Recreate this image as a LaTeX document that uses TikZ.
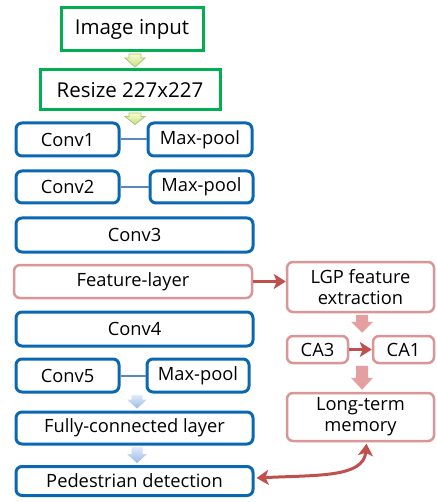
\documentclass[tikz,border=0pt]{standalone}
\usepackage{fontspec}
\setmainfont{Open Sans}
\usetikzlibrary{calc,arrows.meta}
\definecolor{gbd}{RGB}{0,176,80}
\definecolor{bbd}{RGB}{10,104,178}
\definecolor{pbd}{RGB}{218,150,150}
\definecolor{lnk}{RGB}{90,135,190}
\definecolor{rar}{RGB}{192,80,77}
\definecolor{parr}{RGB}{228,160,160}
\definecolor{gtop}{RGB}{250,252,205}
\definecolor{gbot}{RGB}{200,222,130}
\definecolor{garb}{RGB}{160,200,110}
\definecolor{btop}{RGB}{225,235,250}
\definecolor{bbot}{RGB}{150,185,230}
\newcommand{\blockarr}[6]{% from, to, half shaft, half head, head length, style
  \path[#6] ($(#1)+(-#3,0)$) -- ($(#2)+(-#3,-#5)$) -- ($(#2)+(-#4,-#5)$) -- (#2)
    -- ($(#2)+(#4,-#5)$) -- ($(#2)+(#3,-#5)$) -- ($(#1)+(#3,0)$) -- cycle;}
\begin{document}
\begin{tikzpicture}[x=1pt,y=-1pt,
  base/.style={rounded corners=6pt, line width=3pt, minimum height=33pt, inner sep=0pt,
    align=center, font=\fontsize{18.3}{21}\selectfont, fill=white},
  gbox/.style={base, draw=gbd, rounded corners=0pt, font=\fontsize{20.5}{24}\selectfont},
  bbox/.style={base, draw=bbd},
  pbox/.style={base, draw=pbd, line width=2.5pt},
  link/.style={draw=lnk, line width=2pt},
  rarr/.style={draw=rar, line width=3pt, -{Stealth[length=12pt,width=15pt,inset=3pt]}},
  rarr2/.style={draw=rar, line width=3pt, {Stealth[length=12pt,width=15pt,inset=3pt]}-{Stealth[length=12pt,width=15pt,inset=3pt]}},
  garrow/.style={top color=gtop, bottom color=gbot, draw=garb, line width=0.8pt},
  barrow/.style={top color=btop, bottom color=bbot},
  parrow/.style={fill=parr}
]
\useasboundingbox (0,0) rectangle (436,502);

% left column
\node[gbox, minimum width=142pt, minimum height=43pt] (img) at (132,29.5) {Image input};
\node[gbox, minimum width=180pt, minimum height=40pt] (resize) at (130,90) {Resize 227x227};
\node[bbox, minimum width=103pt] (conv1) at (67.5,139.5) {Conv1};
\node[bbox, minimum width=104pt] (mp1) at (200,139.5) {Max-pool};
\node[bbox, minimum width=103pt, minimum height=32pt] (conv2) at (67.5,187) {Conv2};
\node[bbox, minimum width=103pt, minimum height=32pt] (mp2) at (201.5,187) {Max-pool};
\node[bbox, minimum width=237pt, minimum height=34pt] (conv3) at (134.5,235) {Conv3};
\node[pbox, minimum width=238pt] (feat) at (133,281.5) {Feature-layer};
\node[bbox, minimum width=237pt, minimum height=34pt] (conv4) at (134.5,329) {Conv4};
\node[bbox, minimum width=103pt] (conv5) at (67.5,375.5) {Conv5};
\node[bbox, minimum width=102pt] (mp5) at (198,375.5) {Max-pool};
\node[bbox, minimum width=237pt, minimum height=32pt] (fc) at (134.5,428) {Fully-connected layer};
\node[bbox, minimum width=237pt, minimum height=29pt] (ped) at (134.5,481) {Pedestrian detection};

% right column
\node[pbox, minimum width=147pt, minimum height=50pt] (lgp) at (360.5,287) {LGP feature\\extraction};
\node[pbox, minimum width=61pt, minimum height=27pt] (ca3) at (317.5,349.5) {CA3};
\node[pbox, minimum width=61pt, minimum height=27pt] (ca1) at (403.5,349.5) {CA1};
\node[pbox, minimum width=147pt, minimum height=48pt] (ltm) at (360.5,417) {Long-term\\memory};

% links conv - max-pool
\draw[link] (conv1) -- (mp1);
\draw[link] (conv2) -- (mp2);
\draw[link] (conv5) -- (mp5);

% block arrows
\coordinate (g1a) at ($(img.south)+(3,1.5)$);
\coordinate (g1b) at ($(g1a |- resize.north)+(0,-1.5)$);
\blockarr{g1a}{g1b}{6}{10}{9}{garrow}
\coordinate (g2a) at ($(resize.south)+(5,1.5)$);
\coordinate (g2b) at ($(g2a |- conv1.north)+(0,3)$);
\blockarr{g2a}{g2b}{6}{10}{8}{garrow}
\coordinate (b1a) at ($(conv5.south -| fc.north)+(2.5,1.5)$);
\coordinate (b1b) at ($(b1a |- fc.north)+(0,-2)$);
\blockarr{b1a}{b1b}{5.5}{10}{9}{barrow}
\coordinate (b2a) at ($(fc.south)+(2.5,1.5)$);
\coordinate (b2b) at ($(b2a |- ped.north)+(0,-2)$);
\blockarr{b2a}{b2b}{5.5}{10}{9}{barrow}
\coordinate (p1a) at ($(lgp.south)+(1.5,1.5)$);
\coordinate (p1b) at ($(p1a |- ca3.north)+(0,-2)$);
\blockarr{p1a}{p1b}{6}{11}{11}{parrow}
\coordinate (p2a) at ($(ca3.south -| lgp.south)+(1.5,1.5)$);
\coordinate (p2b) at ($(p2a |- ltm.north)+(0,-2)$);
\blockarr{p2a}{p2b}{6}{11}{12}{parrow}

% red arrows
\draw[rarr] (feat.east) -- (lgp.west |- feat.east);
\draw[rarr] (ca3) -- (ca1);
\draw[rarr2] ([xshift=6pt,yshift=-1.5pt]ltm.south) .. controls +(-3,34) and +(60,-3) .. ([xshift=2pt,yshift=3pt]ped.east);
\end{tikzpicture}
\end{document}
